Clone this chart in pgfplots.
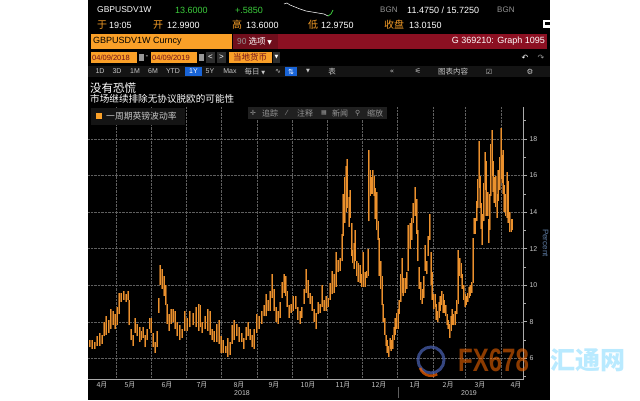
\documentclass[border=0pt]{standalone}
\usepackage{pgfplots}
\usepackage{pgfplotstable}
\pgfplotsset{compat=1.18}
\usepackage{fontspec}
\setmainfont{Liberation Sans}
\newfontfamily\cjk{Noto Sans CJK SC}
\newfontfamily\dejavu{DejaVu Sans}
\newcommand\fs[1]{\fontsize{#1}{#1}\selectfont}

\definecolor{bborange}{RGB}{250,160,40}
\definecolor{crimson}{RGB}{140,16,34}
\definecolor{crimsondk}{RGB}{112,14,28}
\definecolor{bbgreen}{RGB}{60,205,60}
\definecolor{bbgray}{RGB}{150,150,150}
\definecolor{rowbg}{RGB}{20,20,20}
\definecolor{btnbg}{RGB}{45,45,45}
\definecolor{bbblue}{RGB}{25,100,215}
\definecolor{barorange}{RGB}{235,145,45}
\definecolor{barbrown}{RGB}{130,78,24}
\definecolor{gridgray}{RGB}{95,95,95}
\definecolor{axisgray}{RGB}{170,170,170}
\definecolor{labgray}{RGB}{200,200,200}
\definecolor{pctblue}{RGB}{95,125,165}

% day 0 = 1 Apr 2018; columns: day, low, high
\pgfplotstableread{
d lo hi
7.1 6.6 7.0
9.1 6.5 7.0
11.4 6.5 6.9
13.8 6.7 7.2
15.8 6.7 7.4
17.8 6.8 7.3
19.6 7.2 8.0
21.6 7.3 8.3
23.6 7.4 8.1
25.4 7.6 8.7
27.4 7.8 8.6
29.4 7.6 8.4
31.2 7.8 8.8
32.9 8.4 9.6
34.6 9.1 9.6
36.7 9.2 9.7
38.7 9.1 9.5
40.4 9.2 9.7
41.6 7.8 9.2
43.3 7.0 7.6
45.1 6.7 7.3
46.8 7.4 8.2
48.6 7.2 7.9
50.6 6.9 7.7
52.0 7.0 7.5
53.8 7.1 7.7
55.5 6.6 7.3
57.3 7.0 7.6
59.3 7.6 8.2
60.7 7.4 8.2
62.5 6.6 7.4
64.2 6.3 6.9
66.0 6.6 7.5
67.1 8.5 9.3
68.6 10.0 11.1
70.0 9.8 10.9
71.8 9.4 10.5
73.2 8.9 10.0
74.7 7.9 9.0
76.1 7.5 8.4
78.2 7.9 8.7
79.9 8.0 8.7
81.6 7.6 8.6
83.4 7.2 8.0
85.4 7.0 7.8
87.4 7.1 7.6
89.8 7.5 8.6
91.8 7.5 8.2
94.1 7.7 8.6
97.0 7.8 8.5
99.9 7.7 8.8
102.0 7.5 9.0
103.5 7.7 8.9
105.1 7.4 8.0
107.5 7.6 8.3
109.8 7.5 8.7
111.8 7.3 8.6
113.8 7.0 7.6
115.6 6.9 7.5
117.6 6.9 7.9
119.6 6.8 8.1
121.4 6.3 7.2
123.4 6.3 7.0
125.4 6.3 6.7
127.2 6.1 7.1
129.2 6.2 6.9
131.2 6.8 7.8
133.0 7.0 8.1
135.0 7.2 7.9
137.0 6.9 7.7
139.4 6.9 7.4
141.1 6.5 7.1
143.1 7.0 7.7
145.2 7.2 8.0
146.9 7.0 7.6
148.7 6.6 7.3
150.4 6.5 7.6
152.4 7.4 8.4
154.4 7.6 8.3
156.8 7.9 8.6
158.8 8.3 8.9
160.8 8.3 9.5
162.6 8.6 9.2
164.3 8.6 9.7
166.1 9.3 10.6
167.8 8.6 9.8
169.5 8.0 8.8
171.3 7.9 8.6
173.0 8.2 9.1
174.8 9.3 10.2
176.2 9.6 10.6
177.7 9.4 10.5
179.1 8.8 9.7
180.9 8.2 8.9
182.3 8.5 9.0
184.3 8.6 9.4
186.4 8.7 9.4
188.1 8.1 8.8
190.1 7.9 8.6
191.6 8.2 8.8
193.6 9.0 9.8
195.4 9.6 10.9
197.1 9.3 10.3
198.8 9.0 9.6
200.6 8.6 9.4
202.3 8.0 8.7
204.1 7.6 8.5
205.8 8.4 9.1
207.5 8.5 9.0
209.3 8.8 10.0
211.0 8.6 9.2
212.8 8.6 9.4
214.8 8.8 9.3
216.3 9.2 10.1
218.0 9.5 10.8
219.7 9.6 10.6
221.5 9.9 11.8
223.2 10.7 11.4
224.9 10.8 11.5
226.7 11.3 12.8
227.9 12.7 15.0
229.0 13.4 15.9
230.2 14.0 16.5
231.3 14.2 16.9
232.8 13.2 14.8
233.9 13.7 15.2
235.1 11.6 13.4
236.0 11.2 11.9
237.1 10.9 12.3
238.3 11.3 13.0
239.5 10.5 11.3
240.6 10.2 11.2
242.4 10.1 11.1
243.8 9.9 10.6
245.3 9.9 11.8
247.0 9.9 10.7
248.2 10.4 10.8
249.3 10.5 12.0
250.0 13.5 17.4
251.1 14.9 16.3
252.2 15.0 15.9
253.4 15.0 16.3
254.5 14.9 16.0
255.7 13.6 15.3
256.9 13.0 15.1
258.0 12.5 13.5
259.2 10.5 12.6
260.3 9.8 11.3
261.5 8.9 10.5
262.7 8.0 9.0
263.8 7.3 8.2
265.0 6.7 7.3
266.1 6.3 7.0
267.3 6.1 6.7
268.5 6.5 7.1
269.6 6.4 7.0
270.8 6.5 7.3
271.9 7.0 7.7
273.1 7.3 8.2
274.3 7.6 8.5
275.4 7.6 8.7
276.6 8.4 9.2
277.8 9.1 10.6
278.9 9.6 11.5
280.1 9.4 10.4
281.5 9.6 10.4
283.0 9.8 10.7
284.4 10.8 13.3
285.9 12.0 13.4
287.3 12.5 13.7
288.8 13.4 14.5
290.2 13.8 15.4
291.7 12.8 14.7
292.5 11.3 13.0
293.7 9.8 11.0
295.1 9.2 10.2
296.6 9.0 9.8
297.7 9.3 10.5
298.9 10.8 12.2
300.4 10.6 11.3
301.8 11.6 12.7
303.0 12.5 13.9
304.1 10.0 11.8
305.3 9.2 10.7
306.4 8.7 9.5
307.6 8.8 9.5
308.8 8.1 9.0
309.9 8.0 8.6
311.1 8.2 9.1
312.3 8.6 9.4
313.4 8.9 9.7
314.6 8.5 9.5
315.7 8.5 9.2
316.9 8.3 8.9
318.1 7.8 8.4
319.2 7.6 8.1
320.4 7.1 7.9
321.5 7.5 8.3
322.7 7.8 8.7
323.9 7.8 8.4
325.0 7.8 8.6
326.5 8.4 9.2
327.9 9.0 11.9
329.1 10.5 11.5
330.2 10.4 11.2
331.4 9.8 10.6
332.6 9.2 10.0
333.7 8.8 9.5
334.9 8.9 9.4
336.0 9.1 9.6
337.2 9.3 9.9
338.4 9.4 10.0
339.5 9.6 10.2
340.7 10.1 12.6
341.8 12.8 13.7
342.7 12.8 13.7
343.9 13.5 14.6
344.7 14.2 15.8
345.9 15.3 17.9
347.1 14.2 16.0
347.9 13.1 14.5
348.8 12.2 13.9
350.0 13.5 15.6
351.1 15.2 17.3
352.3 13.8 16.8
353.4 13.8 15.1
354.3 12.3 13.6
355.2 13.0 15.0
356.1 14.9 17.7
357.2 16.0 18.5
358.4 15.1 16.8
359.2 14.5 15.9
360.4 14.3 16.0
361.6 13.7 15.0
362.7 14.6 16.3
363.9 15.2 17.0
365.0 15.8 18.6
365.9 15.6 17.1
366.8 15.0 17.4
367.9 14.0 15.5
369.1 13.8 15.0
370.3 13.7 16.2
371.4 13.4 15.7
372.6 12.9 14.0
373.8 12.9 13.6
374.9 13.0 13.6
}\vol

\begin{document}
\begin{tikzpicture}[x=1pt,y=1pt]
\useasboundingbox (0,0) rectangle (640,400);
\fill[white] (0,0) rectangle (640,400);
\fill[black] (88,0) rectangle (550,400);

% row 1
\begin{scope}[every node/.style={anchor=west, inner sep=0}]
\node[text=white, font=\fs{8.5}] at (97,390) {GBPUSDV1W};
\node[text=bbgreen, font=\fs{9}] at (175,390) {13.6000};
\node[text=bbgreen, font=\fs{9}] at (235,390) {+.5850};
\node[text=bbgray, font=\fs{8}] at (380,390) {BGN};
\node[text=white, font=\fs{9}] at (407,390) {11.4750 / 15.7250};
\node[text=bbgray, font=\fs{8}] at (497,390) {BGN};
% row 2
\node[text=bborange, font=\cjk\fs{10}] at (97,375) {于};
\node[text=white, font=\fs{9}] at (109,375) {19:05};
\node[text=bborange, font=\cjk\fs{10}] at (153,375) {开};
\node[text=white, font=\fs{9}] at (167,375) {12.9900};
\node[text=bborange, font=\cjk\fs{10}] at (232,375) {高};
\node[text=white, font=\fs{9}] at (246,375) {13.6000};
\node[text=bborange, font=\cjk\fs{10}] at (308,375) {低};
\node[text=white, font=\fs{9}] at (321,375) {12.9750};
\node[text=bborange, font=\cjk\fs{10}] at (384,375) {收盘};
\node[text=white, font=\fs{9}] at (409,375) {13.0150};
\end{scope}
\draw[white, line width=0.5pt] (284,396)--(287,397)--(290,395)--(295,393)--(300,391)--(306,389)--(312,388)--(318,387)--(324,386)--(328,384);
\draw[bbgreen, line width=0.7pt] (328,384)--(331,386)--(333,390);
\fill[white] (543,372) rectangle (550,380);
\fill[black] (545,375) rectangle (550,378);

% row 3
\fill[bborange] (91,351) rectangle (232,366);
\node[anchor=west, inner sep=0, font=\fs{9}] at (93,358.5) {GBPUSDV1W Curncy};
\fill[crimsondk] (233,351) rectangle (278,366);
\node[anchor=west, inner sep=0, text=white, font=\cjk\fs{8.5}] at (237,358.5) {{\color{bbgray}90} 选项 {\dejavu\fs{6}▼}};
\fill[crimson] (278,351) rectangle (547,366);
\node[anchor=east, inner sep=0, text=white, font=\fs{9}] at (545,358.5) {G 369210: Graph 1095};

% row 4
\fill[bborange] (91,337) rectangle (137,348);
\node[anchor=west, inner sep=0, text=crimsondk, font=\fs{7.5}] at (92,342.5) {04/09/2018};
\fill[bbgray] (139,339) rectangle (144,346);
\node[anchor=center, inner sep=0, text=white, font=\fs{8}] at (147,342.5) {-};
\fill[bborange] (151,337) rectangle (197,348);
\node[anchor=west, inner sep=0, text=crimsondk, font=\fs{7.5}] at (152,342.5) {04/09/2019};
\fill[bbgray] (199,339) rectangle (204,346);
\fill[btnbg] (206,337) rectangle (215,348);
\fill[btnbg] (217,337) rectangle (226,348);
\node[text=white, font=\fs{8}, inner sep=0] at (210.5,342.5) {<};
\node[text=white, font=\fs{8}, inner sep=0] at (221.5,342.5) {>};
\fill[bborange] (229,337) rectangle (272,348);
\node[anchor=west, inner sep=0, text=crimsondk, font=\cjk\fs{8.5}] at (233,342.5) {当地货币};
\fill[btnbg] (273,337) rectangle (280,348);
\node[text=white, font=\dejavu\fs{5}, inner sep=0] at (276.5,342.5) {▼};
\node[text=white, font=\dejavu\fs{8}, inner sep=0] at (525,342.5) {↶};
\node[text=bbgray, font=\dejavu\fs{8}, inner sep=0] at (541,342.5) {↷};

% row 5
\fill[rowbg] (88,323) rectangle (550,334);
\fill[bbblue] (185,324) rectangle (202,333);
\fill[bbblue] (285,324) rectangle (297,333);
\begin{scope}[every node/.style={inner sep=0, text=labgray, font=\fs{7}}]
\node at (100,328.5) {1D};
\node at (117,328.5) {3D};
\node at (135,328.5) {1M};
\node at (153,328.5) {6M};
\node at (173,328.5) {YTD};
\node[text=white] at (193.5,328.5) {1Y};
\node at (210,328.5) {5Y};
\node at (230,328.5) {Max};
\node[font=\cjk\fs{7.5}] at (255,328.5) {每日 {\dejavu\fs{5}▼}};
\node[font=\dejavu\fs{7}] at (278,328.5) {∿};
\node[text=white, font=\dejavu\fs{7}] at (291,328.5) {⇅};
\node[font=\dejavu\fs{5}] at (308,328.5) {▼};
\node[font=\cjk\fs{7.5}] at (332,328.5) {表};
\node[font=\dejavu\fs{7}] at (392,328.5) {«};
\node[font=\dejavu\fs{7}] at (418,328.5) {⚟};
\node[font=\cjk\fs{7.5}] at (453,328.5) {图表内容};
\node[font=\dejavu\fs{7}] at (489,328.5) {☑};
\node[font=\dejavu\fs{7.5}] at (530,328.5) {⚙};
\end{scope}

% titles
\node[anchor=west, inner sep=0, text=white, font=\cjk\fs{11.5}] at (90,312) {没有恐慌};
\node[anchor=west, inner sep=0, text=white, font=\cjk\fs{9.6}] at (90,301) {市场继续排除无协议脱欧的可能性};

\begin{axis}[
  at={(88pt,21pt)}, anchor=south west,
  scale only axis, width=435.5pt, height=272pt,
  xmin=5.63, xmax=384.65, ymin=4.87, ymax=19.75,
  axis x line*=bottom, axis y line*=right,
  axis line style={draw=axisgray, line width=0.6pt},
  tick align=outside,
  ytick={6,8,...,18}, minor ytick={5,7,...,19},
  major tick length=3.5pt, minor tick length=2pt,
  tick style={axisgray, line width=0.6pt},
  xtick={17.8,42.2,74.4,104.8,137,167.5,197.1,227.6,258.9,290.2,319,346.8,378.1},
  xticklabels={4月,5月,6月,7月,8月,9月,10月,11月,12月,1月,2月,3月,4月},
  minor xtick={30,61,91,122,153,183,214,244,275,306,334,365},
  x tick style={draw=none}, minor x tick style={draw=none},
  ymajorgrids, xminorgrids,
  grid style={densely dotted, gridgray, line width=0.5pt},
  yticklabel style={font=\fs{7}, text=labgray, xshift=-1pt},
  xticklabel style={font=\cjk\fs{7}, text=labgray, yshift=4pt},
  /pgf/number format/assume math mode=true,
  clip=true,
]
% wide darker body under each high-low bar
\addplot[draw=none, mark=none,
  error bars/.cd, y dir=plus, y explicit, error mark=none,
  error bar style={draw=barbrown, line width=1.9pt}]
  table[x=d, y=lo, y error expr=\thisrow{hi}-\thisrow{lo}] {\vol};
\addplot[draw=none, mark=none,
  error bars/.cd, y dir=plus, y explicit, error mark=none,
  error bar style={draw=barorange, line width=0.8pt}]
  table[x=d, y=lo, y error expr=\thisrow{hi}-\thisrow{lo}] {\vol};
\end{axis}

% axis extras
\node[rotate=-90, text=pctblue, font=\fs{8}, inner sep=0] at (545.5,157) {Percent};
\node[text=labgray, font=\fs{7}, inner sep=0] at (242,7) {2018};
\node[text=labgray, font=\fs{7}, inner sep=0] at (469,7) {2019};
\draw[gridgray, line width=0.5pt] (398,2) -- (398,13);

% legend and tools
\fill[rowbg] (91,275) rectangle (185,292);
\fill[bborange] (96,281) rectangle (102,287);
\node[anchor=west, inner sep=0, text=labgray, font=\cjk\fs{8.8}] at (106,284) {一周期英镑波动率};
\fill[btnbg!70!black] (248,281) rectangle (387,293);
\begin{scope}[every node/.style={anchor=west, inner sep=0, text=bbgray, font=\cjk\fs{8}}]
\node[font=\dejavu\fs{7}] at (250,287) {✛};
\node at (262,287) {追踪};
\node[font=\dejavu\fs{7}] at (286,287) {⁄};
\node at (297,287) {注释};
\node[font=\dejavu\fs{6}] at (321,287) {▦};
\node at (332,287) {新闻};
\node[font=\dejavu\fs{7}] at (355,287) {⚲};
\node at (367,287) {缩放};
\end{scope}

% watermark
\draw[pctblue!80!blue, line width=3pt, opacity=0.7] (431,40) circle (13);
\draw[orange!80!red, line width=2.5pt, opacity=0.7] (420,32) arc (200:300:12);
\node[anchor=west, inner sep=0, text=orange!85!red, opacity=0.55, font=\bfseries\fs{24}, yscale=1.35] at (458,40) {FX678};
\node[anchor=west, inner sep=0, text=blue!30!cyan!50, opacity=0.55, font=\cjk\bfseries\fs{25}] at (550,40) {汇通网};
\end{tikzpicture}
\end{document}
